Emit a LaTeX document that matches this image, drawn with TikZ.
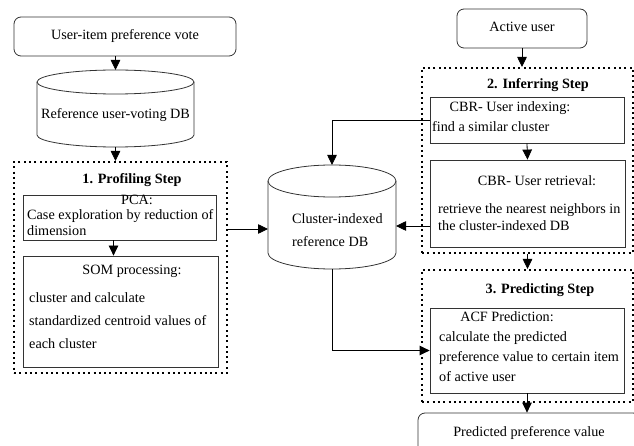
\documentclass[tikz,border=0pt]{standalone}
\usepackage{fontspec}
\setmainfont{Liberation Serif}
\usetikzlibrary{arrows.meta,calc}

\tikzset{
 txt/.style={inner sep=0pt, font=\fontsize{14.2}{16}\selectfont, text height=9.5pt, text depth=2.8pt},
 headtxt/.style={txt, font=\fontsize{14.2}{16}\selectfont\bfseries},
 procbox/.style={draw=black!80, line width=0.8pt, inner sep=0pt},
 endbox/.style={draw=black!80, line width=0.8pt, rounded corners=7pt, txt},
 stepbox/.style={draw, line width=2pt, dash pattern=on 2pt off 3.3pt, inner sep=0pt},
 dbnode/.style={inner sep=0pt, outer sep=0pt},
 dbline/.style={draw=black!80, line width=0.8pt},
 flow/.style={-{Triangle[length=10pt,width=9.5pt]}, line width=0.8pt}
}

\begin{document}
\begin{tikzpicture}[x=1pt,y=-1pt]
\clip (0,0) rectangle (634,446);

% input and reference DB
\node[endbox, minimum width=222pt, minimum height=39pt] (vote) at (125,36.5) {User-item preference vote};
\node[dbnode, minimum width=157pt, minimum height=77pt] (refdb) at (115.5,108.5) {};
\draw[dbline] ([yshift=-12pt]refdb.north west) -- ([yshift=12pt]refdb.south west)
 arc[start angle=180, end angle=0, x radius=78.5, y radius=12] -- ([yshift=-12pt]refdb.north east);
\draw[dbline] ([yshift=-12pt]refdb.north) ellipse[x radius=78.5, y radius=12];
\node[txt] (refdbtxt) at (115.5,115) {Reference user-voting DB};

% 1. profiling step
\node[stepbox, minimum width=213pt, minimum height=211pt] (prof) at (120.5,267.5) {};
\node[headtxt] (profhead) at (132,180) {1. Profiling Step};
\node[procbox, minimum width=193pt, minimum height=45pt] (pca) at (119.5,217.5) {};
\node[txt] (pcahead) at (137,201) {PCA:};
\foreach \t [count=\i] in {Case exploration by reduction of, dimension}
 \node[txt, anchor=west] (pca\i) at (27,200+16*\i) {\t};
\node[procbox, minimum width=195pt, minimum height=111pt] (som) at (120.5,311.5) {};
\node[txt] (somhead) at (132,271) {SOM processing:};
\foreach \t [count=\i] in {cluster and calculate, standardized centroid values of, each cluster}
 \node[txt, anchor=west] (som\i) at (29,276+23*\i) {\t};

% cluster-indexed DB
\node[dbnode, minimum width=128pt, minimum height=104pt] (clusterdb) at (332,217) {};
\draw[dbline] ([yshift=-16pt]clusterdb.north west) -- ([yshift=16pt]clusterdb.south west)
 arc[start angle=180, end angle=0, x radius=64, y radius=16] -- ([yshift=-16pt]clusterdb.north east);
\draw[dbline] ([yshift=-16pt]clusterdb.north) ellipse[x radius=64, y radius=16];
\foreach \t [count=\i] in {Cluster-indexed, reference DB}
 \node[txt, anchor=west] (clusterdb\i) at (292,197+23*\i) {\t};

% 2. inferring step
\node[endbox, minimum width=130pt, minimum height=39pt] (active) at (522,28.5) {Active user};
\node[stepbox, minimum width=211pt, minimum height=185pt] (infer) at (527.5,160.5) {};
\node[headtxt] (inferhead) at (538,85) {2. Inferring Step};
\node[procbox, minimum width=194pt, minimum height=46pt] (index) at (527,120) {};
\node[txt] (indexhead) at (510,108) {CBR- User indexing:};
\node[txt, anchor=west] (index1) at (432,128) {find a similar cluster};
\node[procbox, minimum width=195pt, minimum height=87pt] (retr) at (527.5,203.5) {};
\node[txt] (retrhead) at (537,182) {CBR- User retrieval:};
\foreach \t [count=\i] in {retrieve the nearest neighbors in, the cluster-indexed DB}
 \node[txt, anchor=west] (retr\i) at (438,193+17*\i) {\t};

% 3. predicting step
\node[stepbox, minimum width=211pt, minimum height=132pt] (pred) at (527.5,336) {};
\node[headtxt] (predhead) at (540,290) {3. Predicting Step};
\node[procbox, minimum width=194pt, minimum height=85pt] (acf) at (527,350.5) {};
\node[txt] (acfhead) at (507,318) {ACF Prediction:};
\foreach \t [count=\i] in {calculate the predicted, preference value to certain item, of active user}
 \node[txt, anchor=west] (acf\i) at (439,318+20*\i) {\t};
\node[endbox, minimum width=222pt, minimum height=40pt] (result) at (529,433) {Predicted preference value};

% connectors
\coordinate (pcaout) at ([xshift=-6pt]pca.south);
\coordinate (cin) at ($(clusterdb.west)+(0,12)$);
\coordinate (cout) at ($(clusterdb.east)+(0,9)$);
\draw[flow] (vote.south -| refdb.north) -- (refdb.north);
\draw[flow] (refdb.south) -- (refdb.south |- prof.north);
\draw[flow] (pcaout) -- (pcaout |- som.north);
\draw[flow] (prof.east |- cin) -- (cin);
\draw[flow] (active.south) -- (active.south |- infer.north);
\draw[flow] (index.south) -- (retr.north);
\draw[flow] (index.west) -| (clusterdb.north);
\draw[flow] (retr.west |- cout) -- (cout);
\draw[flow] (infer.south) -- (pred.north);
\draw[flow] (clusterdb.south) |- (acf.west);
\draw[flow] (acf.south) -- (acf.south |- result.north);
\end{tikzpicture}
\end{document}
